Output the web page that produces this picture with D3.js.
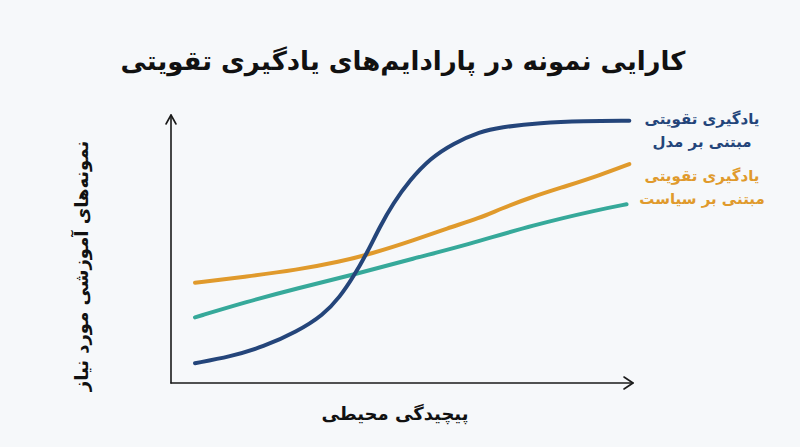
<!DOCTYPE html>
<html lang="fa">
<head>
<meta charset="utf-8">
<script src="https://cdn.jsdelivr.net/npm/d3@7"></script>
<style>
    html, body { margin: 0; padding: 0; background: #f6f8fa; }
    svg { display: block; font-family: "DejaVu Sans", "Noto Sans", sans-serif; }
</style>
</head>
<body>
<svg id="chart" width="800" height="447"></svg>
<script>
// x = environment complexity (0-100), y = samples needed (0-100)
const modelX  = [ 5.2, 12.8, 20.0, 27.2, 33.0, 36.6, 39.5, 42.4, 45.2, 48.1, 51.7, 56.1, 61.1, 66.9, 71.2, 79.9, 89.2, 99.2 ];
const modelY  = [ 7.4, 9.8, 13.5, 19.1, 25.4, 32.2, 39.7, 48.4, 58.3, 67.1, 75.7, 83.8, 89.4, 93.8, 95.4, 97.1, 97.8, 97.9 ];
const policyX = [ 5.2, 16.4, 27.2, 36.6, 43.1, 52.8, 59.7, 66.9, 71.2, 78.2, 85.6, 92.9, 99.2 ];
const policyY = [ 37.4, 39.7, 42.2, 45.3, 48.1, 53.4, 57.7, 61.6, 64.9, 69.5, 73.5, 77.6, 81.7 ];
const thirdX  = [ 5.2, 16.4, 27.2, 40.2, 52.5, 64.0, 78.4, 92.9, 98.6 ];
const thirdY  = [ 24.5, 30.3, 35.3, 40.7, 46.5, 51.5, 59.0, 64.8, 66.7 ];

const title = 'کارایی نمونه در پارادایم‌های یادگیری تقویتی';
const xTitle = 'پیچیدگی محیطی';
const yTitle = 'نمونه‌های آموزشی مورد نیاز';
const modelLabel = [ 'یادگیری تقویتی', 'مبتنی بر مدل' ];
const policyLabel = [ 'یادگیری تقویتی', 'مبتنی بر سیاست' ];

const svg = d3.select( '#chart' );
const margin = { top: 115, right: 167, bottom: 64, left: 171 };
const width = 800 - margin.left - margin.right,
      height = 447 - margin.top - margin.bottom;

const x = d3.scaleLinear().domain( [ 0, 100 ] ).range( [ margin.left, margin.left + width ] );
const y = d3.scaleLinear().domain( [ 0, 100 ] ).range( [ margin.top + height, margin.top ] );

svg.append( 'rect' ).attr( 'width', 800 ).attr( 'height', 447 ).attr( 'fill', '#f6f8fa' );

// axes with arrow heads
const axisG = svg.append( 'g' ).attr( 'stroke', '#1a1a1a' ).attr( 'stroke-width', 1.6 )
    .attr( 'fill', 'none' ).attr( 'stroke-linecap', 'round' ).attr( 'stroke-linejoin', 'round' );
axisG.append( 'path' ).attr( 'd', `M${x( 0 )},${y( 0 )}L${x( 0 )},${y( 100 )}` );
axisG.append( 'path' ).attr( 'd', `M${x( 0 ) - 5},${y( 100 ) + 9}L${x( 0 )},${y( 100 )}L${x( 0 ) + 5},${y( 100 ) + 9}` );
axisG.append( 'path' ).attr( 'd', `M${x( 0 )},${y( 0 )}L${x( 100 )},${y( 0 )}` );
axisG.append( 'path' ).attr( 'd', `M${x( 100 ) - 9},${y( 0 ) - 6}L${x( 100 )},${y( 0 )}L${x( 100 ) - 9},${y( 0 ) + 6}` );

// basis curve smooths out the small reading errors of the hand-read points
const line = d3.line()
    .curve( d3.curveBasis )
    .x( d => x( d[ 0 ] ) )
    .y( d => y( d[ 1 ] ) );

const series = [
    { xs: thirdX, ys: thirdY, color: '#36a99a' },
    { xs: policyX, ys: policyY, color: '#e09a2c' },
    { xs: modelX, ys: modelY, color: '#24457a' }
];

series.forEach( s => {
    svg.append( 'path' )
        .datum( s.xs.map( ( v, i ) => [ v, s.ys[ i ] ] ) )
        .attr( 'd', line )
        .attr( 'fill', 'none' )
        .attr( 'stroke', s.color )
        .attr( 'stroke-width', 4 )
        .attr( 'stroke-linecap', 'round' );
} );

// labels
svg.append( 'text' )
    .attr( 'x', 403 ).attr( 'y', 70 )
    .attr( 'text-anchor', 'middle' ).attr( 'direction', 'rtl' )
    .attr( 'font-size', 26 ).attr( 'font-weight', 'bold' ).attr( 'fill', '#111' )
    .text( title );

svg.append( 'text' )
    .attr( 'x', 395 ).attr( 'y', 420 )
    .attr( 'text-anchor', 'middle' ).attr( 'direction', 'rtl' )
    .attr( 'font-size', 18 ).attr( 'font-weight', 'bold' ).attr( 'fill', '#111' )
    .text( xTitle );

svg.append( 'text' )
    .attr( 'transform', 'translate(88,266) rotate(-90)' )
    .attr( 'text-anchor', 'middle' ).attr( 'direction', 'rtl' )
    .attr( 'font-size', 18 ).attr( 'font-weight', 'bold' ).attr( 'fill', '#111' )
    .text( yTitle );

const addLabel = ( lines, cy, color ) => {
    const t = svg.append( 'text' )
        .attr( 'text-anchor', 'middle' ).attr( 'direction', 'rtl' )
        .attr( 'font-size', 15 ).attr( 'font-weight', 'bold' ).attr( 'fill', color );
    lines.forEach( ( l, i ) => {
        t.append( 'tspan' ).attr( 'x', 702 ).attr( 'y', cy + i * 23 ).text( l );
    } );
};
addLabel( modelLabel, 124, '#24457a' );
addLabel( policyLabel, 181, '#e09a2c' );
</script>
</body>
</html>
